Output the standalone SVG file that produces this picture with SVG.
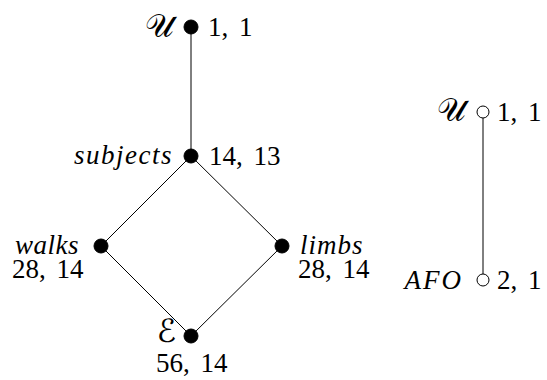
<svg xmlns="http://www.w3.org/2000/svg" width="547" height="380" viewBox="0 0 547 380">
<style>
.num{font-family:"Liberation Serif",serif;font-size:27px;fill:#000;word-spacing:4px}
.it{font-family:"Liberation Serif",serif;font-size:27px;font-style:italic;fill:#000}
.scr{font-family:"DejaVu Serif","DejaVu Sans",serif;font-size:32px;fill:#000}
.edge{stroke:#000;stroke-width:1;fill:none}
.full{fill:#000;stroke:#000;stroke-width:1}
.open{fill:#fff;stroke:#000;stroke-width:1}
</style>
<rect width="547" height="380" fill="#fff"/>
<g id="connectors">
<line class="edge" x1="191" y1="27" x2="191" y2="156"/>
<line class="edge" x1="191" y1="156" x2="101" y2="246"/>
<line class="edge" x1="191" y1="156" x2="282" y2="246"/>
<line class="edge" x1="101" y1="246" x2="191" y2="336"/>
<line class="edge" x1="282" y1="246" x2="191" y2="336"/>
<line class="edge" x1="483" y1="118" x2="483" y2="274"/>
</g>
<g id="n-top">
<circle class="full" cx="191" cy="27" r="7"/>
<text class="scr" x="174" y="37" text-anchor="end">𝒰</text>
<text class="num" x="208" y="36">1, 1</text>
</g>
<g id="n-subjects">
<circle class="full" cx="191" cy="156" r="7"/>
<text class="it" x="173" y="164" text-anchor="end" letter-spacing="1.5">subjects</text>
<text class="num" x="209" y="165">14, 13</text>
</g>
<g id="n-walks">
<circle class="full" cx="101" cy="246" r="7"/>
<text class="it" x="15" y="254" letter-spacing="0.5">walks</text>
<text class="num" x="12" y="278">28, 14</text>
</g>
<g id="n-limbs">
<circle class="full" cx="282" cy="246" r="7"/>
<text class="it" x="300" y="254" letter-spacing="1">limbs</text>
<text class="num" x="298" y="278">28, 14</text>
</g>
<g id="n-bottom">
<circle class="full" cx="191" cy="336" r="7"/>
<text class="scr" x="176" y="342" text-anchor="end">ℰ</text>
<text class="num" x="156" y="372">56, 14</text>
</g>
<g id="n-right-top">
<circle class="open" cx="483" cy="112" r="6"/>
<text class="scr" x="466" y="121" text-anchor="end">𝒰</text>
<text class="num" x="497" y="121">1, 1</text>
</g>
<g id="n-afo">
<circle class="open" cx="483" cy="280" r="6"/>
<text class="it" x="463" y="289" text-anchor="end" letter-spacing="2">AFO</text>
<text class="num" x="497" y="289">2, 1</text>
</g>
</svg>
